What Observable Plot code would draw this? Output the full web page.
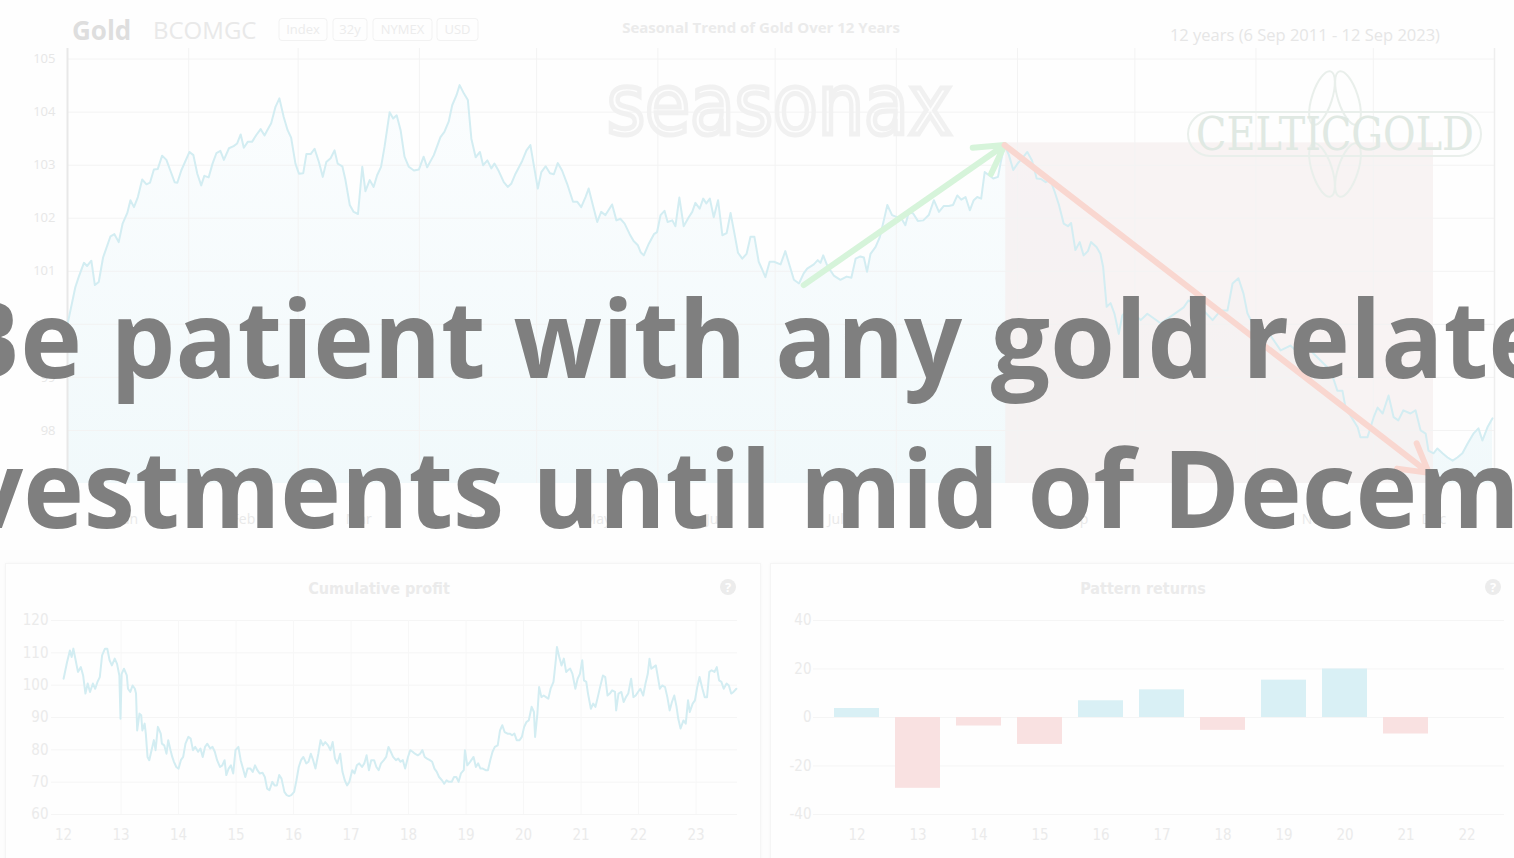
<!DOCTYPE html>
<html><head><meta charset="utf-8">
<script src="https://cdn.jsdelivr.net/npm/d3@7"></script>
<script src="https://cdn.jsdelivr.net/npm/@observablehq/plot@0.6"></script>
<style>
html,body{margin:0;padding:0}
body{width:1514px;height:858px;overflow:hidden;position:relative;background:#fdfdfd;font-family:"Open Sans",sans-serif}
.abs{position:absolute}
.card{position:absolute;background:#fefefe;border:1px solid #f5f5f5;box-shadow:0 0 3px rgba(0,0,0,0.03)}
</style></head><body>
<div class="abs" style="left:0;top:0;width:1514px;height:550px;background:#fefefe"></div>
<div class="card" style="left:5px;top:563px;width:754px;height:300px"></div>
<div class="card" style="left:770px;top:563px;width:748px;height:300px"></div>
<div id="main" class="abs" style="left:0;top:0"></div>
<div id="cum" class="abs" style="left:5px;top:563px"></div>
<div id="pat" class="abs" style="left:770px;top:563px"></div>
<svg id="overlay" class="abs" style="left:0;top:0" width="1514" height="858"></svg>
<script>
// ---------- DATA ----------
const monthNames = ["Jan","Feb","Mar","Apr","May","Jun","Jul","Aug","Sep","Oct","Nov","Dec"];
const monthStarts = [0,31,59,90,120,151,181,212,243,273,304,334,365];
const seasonTicksY = [98,99,100,101,102,103,104,105];
// [day of year, seasonal index]
const seasonData = [
[0,100.0],[2,100.7],[2.9,100.9],[4.2,101.16],[5,101.1],[6.1,101.2],[7,100.74],[8,100.8],[9.1,101.26],[11,101.66],
[12,101.7],[13.1,101.55],[14.1,101.9],[15.3,102.1],[16.1,102.34],[17,102.21],[18,102.4],[19.1,102.73],[20.2,102.64],[21.1,102.67],
[22.1,102.92],[23.1,102.93],[24.2,103.18],[25.3,103.1],[26.3,102.9],[27.4,102.68],[28.1,102.67],[29.1,102.9],[31.2,103.25],[32.2,103.19],
[33.2,102.84],[34.2,102.62],[35,102.8],[36.1,102.77],[37.1,103.03],[38.1,103.23],[39.1,103.27],[40,103.1],[41.3,103.32],[42.5,103.36],
[43.4,103.41],[44.3,103.58],[45.1,103.33],[46.1,103.44],[47.2,103.44],[48.3,103.57],[49.4,103.68],[50.4,103.56],[51.1,103.66],[52.1,103.79],
[53.2,104.1],[54.2,104.26],[55.3,103.91],[56.3,103.66],[57.2,103.52],[58.3,103.03],[59.2,102.84],[60.3,102.85],[61.1,103.21],[62.2,103.21],
[63.2,103.31],[64.3,103.06],[65.3,102.78],[66.2,103.06],[67.3,103.13],[68.3,103.28],[69.1,103.03],[70.3,102.98],[71.1,102.72],[72.2,102.25],
[73.2,102.12],[74.3,102.08],[75.4,102.97],[76.2,102.51],[77.3,102.72],[78.3,102.59],[79.2,102.81],[80.2,102.97],[81.1,103.35],[82.4,104.0],
[83.3,103.88],[84.2,103.94],[85.2,103.66],[86.2,103.16],[87.3,102.97],[88.6,102.9],[89.9,102.92],[91.1,103.16],[92,102.96],[93.7,103.19],
[95.4,103.53],[96.4,103.63],[97.5,103.82],[98.4,104.13],[99.5,104.32],[100.3,104.51],[101.4,104.35],[102.4,104.23],[103.3,103.5],[104.4,103.15],
[105.5,103.25],[106.3,103.0],[107.4,103.09],[108.4,102.94],[109.2,103.03],[110.3,102.89],[111.6,102.68],[112.6,102.59],[113.5,102.65],[114.6,102.84],
[116.3,103.08],[117.4,103.28],[118.4,103.38],[120.3,102.56],[121.2,102.87],[122.3,102.98],[123.4,102.85],[124.4,102.83],[125.4,103.04],[126.5,102.9],
[127.8,102.65],[129.3,102.31],[130.4,102.31],[131.4,102.21],[132.5,102.4],[133.3,102.56],[134.5,102.21],[135.5,101.93],[136.5,102.12],[137.6,102.06],
[139.3,102.26],[140.4,101.96],[141.4,101.99],[142.5,101.9],[143.8,101.7],[144.8,101.57],[145.9,101.49],[146.6,101.36],[147.4,101.3],[148.7,101.52],
[150,101.7],[150.8,101.74],[151.7,102.06],[152.7,102.14],[153.5,101.93],[154.7,101.96],[155.5,101.85],[156.5,102.39],[157.6,101.85],[158.9,102.02],
[159.8,102.12],[160.6,102.29],[161.7,102.18],[162.6,102.37],[163.4,102.28],[164.3,102.37],[165.3,102.02],[166.4,102.34],[167.5,101.68],[168.6,101.72],
[169.6,102.1],[170.6,101.71],[171.5,101.35],[172.6,101.24],[173.7,101.33],[174.7,101.65],[175.7,101.65],[176.8,101.18],[177.7,101.03],[178.5,100.89],
[179.6,101.18],[180.7,101.18],[182.4,101.13],[183.6,101.38],[184.7,101.11],[185.8,100.84],[187.1,100.77],[188.3,100.96],[189.2,101.05],[190.9,101.13],
[191.9,101.21],[192.6,101.16],[193.3,101.3],[194.3,101.11],[196,100.92],[197.7,100.84],[199.3,100.9],[200.5,100.88],[201.6,101.24],[202.8,101.28],
[203.7,101.26],[204.5,100.99],[205.4,101.33],[206.7,101.46],[207.8,101.65],[208.8,101.96],[209.7,102.25],[210.9,102.06],[212.2,102.02],[213.2,102.01],
[214.3,101.87],[215.2,102.12],[216.3,102.09],[217.5,101.95],[218.9,101.96],[220.3,102.06],[221.6,102.34],[222.9,102.12],[224.1,102.23],[225.4,102.23],
[226.5,102.25],[227.6,102.43],[228.6,102.35],[229.7,102.4],[230.8,102.15],[231.8,102.34],[232.7,102.4],[233.7,102.37],[234.6,102.87],[235.7,102.81],
[236.8,102.75],[238,102.78],[238.8,103.09],[239.7,103.38],[240.8,103.19],[241.9,102.91],[243.1,103.04],[244.2,103.13],[245.5,103.25],[246.7,103.09],
[247.9,102.75],[249,102.74],[250.2,102.68],[251.4,102.72],[252.5,102.5],[253.6,102.25],[254.8,101.9],[255.9,101.85],[256.7,101.91],[257.8,101.4],
[258.9,101.55],[259.9,101.3],[261,101.38],[261.8,101.55],[263.2,101.46],[264.2,101.33],[264.9,101.08],[265.8,100.33],[266.8,100.4],[267.8,100.2],
[268.9,99.82],[269.8,100.17],[271,100.26],[272.7,100.2],[274.5,100.08],[276.2,100.2],[279.6,100.02],[282.6,100.17],[285.5,100.32],[286.7,100.45],
[288.8,100.36],[290.6,100.26],[292.9,100.08],[294.9,100.26],[296.7,100.26],[298,100.77],[299.5,100.87],[300.8,100.58],[301.8,100.21],[303.9,99.89],
[305.7,99.7],[307.7,99.79],[310.3,99.51],[312.8,99.6],[315.4,99.42],[317.9,99.51],[320.5,99.32],[323.1,99.13],[324.8,98.75],[326.1,98.75],
[326.9,98.43],[330,98.06],[330.7,97.87],[332.5,97.87],[334.1,98.25],[335.1,98.43],[336.4,98.32],[337.9,98.66],[339.2,98.25],[340.4,98.19],
[341.7,98.38],[343.5,98.32],[344.8,98.38],[346.1,98.0],[347.4,97.94],[348.1,97.62],[349.4,97.57],[350.4,97.66],[351.7,97.57],[353,97.49],
[354.3,97.43],[355.5,97.49],[356.8,97.57],[358.1,97.75],[359.6,97.94],[360.9,98.04],[361.9,97.81],[363.2,98.06],[364.5,98.23]
];
// seasonal pattern window (shaded) : [start day, end day, top value]
const patternWindow = [{start:240, end:349.4, top:103.42}];
// trend arrows
const trendArrows = [
  {x1:188.3, y1:100.74, x2:239.7, y2:103.38, kind:"up"},
  {x1:239.7, y1:103.38, x2:348.2, y2:97.2, kind:"down"}
];

// Cumulative profit [year (20xx), value]
const cumTicksY = [60,70,80,90,100,110,120];
const cumTicksX = [12,13,14,15,16,17,18,19,20,21,22,23];
const cumData = [
[12.00,102.0],[12.06,107.1],[12.11,110.7],[12.14,108.7],[12.17,111.3],[12.21,107.7],[12.25,104.1],[12.30,105.6],[12.34,103.0],[12.38,97.4],
[12.42,100.5],[12.46,97.9],[12.51,100.5],[12.55,98.9],[12.59,101.0],[12.63,102.5],[12.67,109.2],[12.72,111.3],[12.76,111.3],[12.80,107.7],
[12.84,106.1],[12.89,108.2],[12.93,106.6],[12.97,103.0],[12.99,89.6],[13.01,103.5],[13.05,105.1],[13.10,103.0],[13.12,98.9],[13.16,97.9],
[13.20,99.9],[13.24,98.9],[13.26,97.4],[13.28,86.0],[13.32,91.2],[13.35,90.7],[13.37,86.0],[13.41,88.1],[13.43,85.0],[13.46,77.8],
[13.49,76.8],[13.53,79.9],[13.57,83.0],[13.60,79.9],[13.64,87.1],[13.69,85.0],[13.71,81.9],[13.75,81.4],[13.79,78.8],[13.82,83.0],
[13.86,79.9],[13.89,77.8],[13.92,76.3],[13.96,74.7],[14.00,74.2],[14.04,76.8],[14.08,77.8],[14.12,81.9],[14.17,84.0],[14.21,83.5],
[14.25,79.9],[14.29,80.9],[14.34,79.4],[14.38,80.4],[14.42,77.8],[14.46,80.9],[14.50,81.9],[14.55,80.4],[14.59,80.9],[14.63,79.4],
[14.67,76.8],[14.72,74.7],[14.76,75.2],[14.80,76.8],[14.83,72.2],[14.87,74.2],[14.91,75.2],[14.95,72.7],[14.99,79.9],[15.04,80.9],
[15.08,76.8],[15.12,74.2],[15.16,71.6],[15.20,74.2],[15.25,74.2],[15.29,73.2],[15.33,75.2],[15.37,73.7],[15.41,72.7],[15.46,72.9],
[15.50,71.6],[15.54,68.0],[15.58,67.5],[15.63,70.1],[15.67,69.0],[15.71,69.0],[15.75,72.2],[15.79,71.1],[15.84,67.0],[15.88,66.0],
[15.92,65.7],[15.96,66.0],[16.01,67.0],[16.05,70.6],[16.09,74.7],[16.13,76.8],[16.17,77.8],[16.22,75.8],[16.26,76.3],[16.30,78.8],
[16.34,76.8],[16.38,74.2],[16.43,78.8],[16.47,83.0],[16.51,81.4],[16.55,82.4],[16.60,81.4],[16.64,79.9],[16.68,82.4],[16.72,77.3],
[16.76,75.8],[16.81,78.8],[16.85,73.2],[16.89,70.6],[16.93,69.0],[16.97,70.1],[17.02,73.7],[17.06,72.7],[17.10,75.2],[17.14,75.8],
[17.19,74.7],[17.23,75.8],[17.27,78.3],[17.31,73.7],[17.35,76.8],[17.40,76.8],[17.44,74.7],[17.48,73.7],[17.52,75.8],[17.57,76.8],
[17.61,77.8],[17.65,80.9],[17.69,79.4],[17.73,77.8],[17.78,76.8],[17.82,77.3],[17.86,76.3],[17.90,76.8],[17.94,74.2],[17.99,77.8],
[18.03,79.9],[18.07,79.4],[18.11,78.8],[18.16,78.3],[18.20,78.8],[18.24,79.9],[18.28,77.8],[18.32,77.3],[18.37,76.8],[18.41,76.3],
[18.45,74.2],[18.49,73.2],[18.53,71.6],[18.58,70.6],[18.62,69.5],[18.66,70.6],[18.70,70.1],[18.75,70.1],[18.79,71.6],[18.83,71.6],
[18.87,70.1],[18.91,72.7],[18.96,73.7],[18.98,79.9],[19.02,75.2],[19.07,76.3],[19.13,77.8],[19.17,74.7],[19.21,75.8],[19.25,74.2],
[19.29,74.2],[19.34,73.7],[19.38,73.7],[19.42,76.8],[19.46,79.4],[19.50,80.9],[19.55,81.4],[19.59,86.0],[19.63,87.6],[19.67,85.5],
[19.72,85.0],[19.76,85.0],[19.80,84.5],[19.84,85.0],[19.88,83.0],[19.93,83.0],[19.97,84.0],[20.01,87.1],[20.05,88.6],[20.09,89.1],
[20.14,93.3],[20.18,91.7],[20.20,84.0],[20.24,91.2],[20.27,99.4],[20.31,96.3],[20.35,96.8],[20.39,96.3],[20.43,95.8],[20.47,98.9],
[20.52,101.0],[20.56,107.7],[20.58,111.8],[20.62,108.7],[20.66,106.1],[20.70,108.2],[20.74,104.1],[20.77,104.6],[20.81,105.1],[20.85,103.5],
[20.90,98.9],[20.94,102.0],[20.98,103.5],[21.02,107.7],[21.05,101.5],[21.09,101.0],[21.12,97.4],[21.17,92.7],[21.21,94.3],[21.25,93.3],
[21.29,96.3],[21.33,99.4],[21.38,103.0],[21.42,102.5],[21.46,96.8],[21.50,97.4],[21.54,98.4],[21.59,97.9],[21.61,92.2],[21.65,97.4],
[21.70,97.9],[21.74,94.8],[21.78,96.3],[21.82,97.4],[21.87,102.0],[21.91,96.3],[21.95,96.8],[21.99,97.9],[22.03,98.9],[22.08,96.8],
[22.12,100.5],[22.16,103.5],[22.19,108.2],[22.22,105.1],[22.26,105.6],[22.30,106.1],[22.34,102.0],[22.37,98.9],[22.41,99.9],[22.46,99.4],
[22.50,96.3],[22.54,92.2],[22.58,94.8],[22.62,96.8],[22.66,93.3],[22.69,89.6],[22.73,86.6],[22.78,89.1],[22.82,88.1],[22.86,95.3],
[22.89,91.7],[22.94,94.3],[22.98,95.3],[23.02,99.4],[23.06,102.5],[23.11,98.9],[23.15,96.3],[23.19,96.3],[23.23,104.1],[23.27,104.6],
[23.32,104.1],[23.36,105.6],[23.40,101.5],[23.44,101.0],[23.48,98.9],[23.53,100.5],[23.57,99.9],[23.61,97.4],[23.65,97.9],[23.70,98.9]
];

// Pattern returns by year
const patYears = ["12","13","14","15","16","17","18","19","20","21","22"];
const patReturns = [3.7,-29.2,-3.5,-11.1,6.9,11.4,-5.3,15.4,20.0,-6.8,0];
const patTicksY = [-40,-20,0,20,40];

// ---------- MAIN CHART ----------
const season = seasonData.map(([day,value]) => ({day, value}));
const monthMids = monthNames.map((m,i) => ({m, d:(monthStarts[i]+monthStarts[i+1])/2}));
const gradDefs = () => {
  const ns = "http://www.w3.org/2000/svg";
  const defs = document.createElementNS(ns, "defs");
  defs.innerHTML = '<linearGradient id="areaGrad" x1="0" y1="0" x2="0" y2="1">' +
    '<stop offset="0" stop-color="#fbfdfe"/><stop offset="1" stop-color="#f1f9fb"/></linearGradient>';
  return defs;
};
const mainPlot = Plot.plot({
  width: 1514, height: 545,
  marginLeft: 67, marginRight: 20, marginTop: 48, marginBottom: 62,
  x: {domain: [0, 365], axis: null},
  y: {domain: [97, 105.2], axis: null},
  style: {background: "transparent", fontFamily: "Open Sans", overflow: "visible"},
  marks: [
    gradDefs,
    Plot.areaY(season, {x: "day", y1: 97, y2: "value", fill: "url(#areaGrad)"}),
    Plot.rect(patternWindow, {x1: "start", x2: "end", y1: 97, y2: "top", fill: "#f6efef", fillOpacity: 0.75}),
    Plot.ruleY(seasonTicksY, {stroke: "#f3f3f3", strokeWidth: 1}),
    Plot.ruleX(monthStarts.slice(1, 12), {stroke: "#f3f3f3", strokeWidth: 1}),
    Plot.ruleX([365], {stroke: "#eeeeee", strokeWidth: 1.5}),
    Plot.ruleX([0], {stroke: "#e8e8e8", strokeWidth: 2}),
    Plot.line(season, {x: "day", y: "value", stroke: "#d3edf2", strokeWidth: 2}),
    Plot.arrow(trendArrows.filter(d => d.kind === "up"), {x1: "x1", y1: "y1", x2: "x2", y2: "y2", stroke: "#d6f4da", strokeWidth: 6, headLength: 8}),
    Plot.arrow(trendArrows.filter(d => d.kind === "down"), {x1: "x1", y1: "y1", x2: "x2", y2: "y2", stroke: "#f9d7d0", strokeWidth: 6, headLength: 8}),
    Plot.text(seasonTicksY, {x: 0, y: d => d, text: d => String(d), textAnchor: "end", dx: -12, fill: "#e7e7e7", fontSize: 13}),
    Plot.text(monthMids, {x: "d", y: 97, text: "m", dy: 36, fill: "#e9e9e9", fontSize: 14})
  ]
});
document.getElementById("main").appendChild(mainPlot);

// ---------- CUMULATIVE PROFIT ----------
const cum = cumData.map(([year, value]) => ({year, value}));
const cumPlot = Plot.plot({
  width: 755, height: 295,
  marginLeft: 46, marginRight: 23, marginTop: 57, marginBottom: 44,
  x: {domain: [11.79, 23.72], axis: null},
  y: {domain: [60, 120], axis: null},
  style: {background: "transparent", fontFamily: "'Liberation Sans Narrow','DejaVu Sans Condensed',sans-serif", overflow: "visible"},
  marks: [
    Plot.ruleY(cumTicksY, {stroke: "#f5f5f5"}),
    Plot.ruleX(cumTicksX.slice(1), {stroke: "#f7f7f7"}),
    Plot.line(cum, {x: "year", y: "value", stroke: "#d3edf2", strokeWidth: 2}),
    Plot.text(cumTicksY, {x: 11.79, y: d => d, text: d => String(d), textAnchor: "end", dx: -3, fill: "#ebebeb", fontSize: 15}),
    Plot.text(cumTicksX, {x: d => d, y: 60, text: d => String(d), dy: 21, fill: "#ebebeb", fontSize: 15})
  ]
});
document.getElementById("cum").appendChild(cumPlot);

// ---------- PATTERN RETURNS ----------
const pat = patYears.map((year, i) => ({year, value: patReturns[i]}));
const patPlot = Plot.plot({
  width: 744, height: 295,
  marginLeft: 43, marginRight: 10, marginTop: 57, marginBottom: 44,
  x: {type: "band", domain: patYears, range: [54, 729], paddingInner: 0.27, paddingOuter: 0.135, axis: null},
  y: {domain: [-40, 40], axis: null},
  style: {background: "transparent", fontFamily: "'Liberation Sans Narrow','DejaVu Sans Condensed',sans-serif", overflow: "visible"},
  marks: [
    Plot.ruleY(patTicksY, {stroke: "#f5f5f5"}),
    Plot.barY(pat.filter(d => d.value > 0), {x: "year", y: "value", fill: "#d9f0f5"}),
    Plot.barY(pat.filter(d => d.value < 0), {x: "year", y: "value", fill: "#f9e1e1"}),
    Plot.text(patTicksY, {frameAnchor: "left", y: d => d, text: d => String(d), textAnchor: "end", dx: -2, fill: "#ebebeb", fontSize: 15}),
    Plot.text(patYears, {x: d => d, y: -40, text: d => d, dy: 21, fill: "#ebebeb", fontSize: 15})
  ]
});
document.getElementById("pat").appendChild(patPlot);

// ---------- HEADER, WATERMARKS, OVERLAY TEXT ----------
const ov = d3.select("#overlay");
ov.append("text").attr("x", 72).attr("y", 40).attr("font-family", "Open Sans").attr("font-weight", 700)
  .attr("font-size", 26).attr("fill", "#dedede").text("Gold");
ov.append("text").attr("x", 153).attr("y", 39).attr("font-family", "Open Sans")
  .attr("font-size", 24).attr("fill", "#e9e9e9").text("BCOMGC");
const tags = [["Index",279,48],["32y",333,34],["NYMEX",373,59],["USD",437,41]];
tags.forEach(([t,x,w]) => {
  ov.append("rect").attr("x", x).attr("y", 18.5).attr("width", w).attr("height", 22).attr("rx", 3)
    .attr("fill", "none").attr("stroke", "#f2f2f2");
  ov.append("text").attr("x", x + w/2).attr("y", 34).attr("text-anchor", "middle").attr("font-family", "Open Sans")
    .attr("font-size", 13).attr("fill", "#ececec").text(t);
});
ov.append("text").attr("x", 761).attr("y", 33).attr("text-anchor", "middle").attr("font-family", "Open Sans")
  .attr("font-weight", 700).attr("font-size", 15).attr("fill", "#ebebeb").text("Seasonal Trend of Gold Over 12 Years");
ov.append("text").attr("x", 1440).attr("y", 41).attr("text-anchor", "end").attr("font-family", "Open Sans")
  .attr("font-size", 16.5).attr("fill", "#e6e6e6").text("12 years (6 Sep 2011 - 12 Sep 2023)");

// watermarks
ov.append("text").attr("x", 607).attr("y", 134).attr("font-family", "DejaVu Sans").attr("font-size", 84)
  .attr("textLength", 345).attr("lengthAdjust", "spacingAndGlyphs")
  .attr("fill", "none").attr("stroke", "#f1f1f1").attr("stroke-width", 5).text("seasonax");
const cg = ov.append("g").attr("fill", "none").attr("stroke", "#e9efeb").attr("stroke-width", 2);
cg.append("rect").attr("x", 1188).attr("y", 112).attr("width", 293).attr("height", 44).attr("rx", 22);
cg.append("ellipse").attr("cx", 1322).attr("cy", 98).attr("rx", 10).attr("ry", 28).attr("transform", "rotate(18 1322 98)");
cg.append("ellipse").attr("cx", 1348).attr("cy", 98).attr("rx", 10).attr("ry", 28).attr("transform", "rotate(-18 1348 98)");
cg.append("ellipse").attr("cx", 1322).attr("cy", 170).attr("rx", 10).attr("ry", 28).attr("transform", "rotate(-18 1322 170)");
cg.append("ellipse").attr("cx", 1348).attr("cy", 170).attr("rx", 10).attr("ry", 28).attr("transform", "rotate(18 1348 170)");
ov.append("text").attr("x", 1196).attr("y", 150).attr("font-family", "DejaVu Serif").attr("font-size", 46)
  .attr("textLength", 278).attr("lengthAdjust", "spacingAndGlyphs")
  .attr("fill", "#e0e9e3").text("CELTICGOLD");

// panel titles and help icons
[["Cumulative profit", 379, 728], ["Pattern returns", 1143, 1493]].forEach(([t, cx, qx]) => {
  ov.append("text").attr("x", cx).attr("y", 594).attr("text-anchor", "middle")
    .attr("font-family", "'Liberation Sans Narrow','DejaVu Sans Condensed',sans-serif").attr("font-weight", 700)
    .attr("font-size", 16).attr("fill", "#ebebeb").text(t);
  ov.append("circle").attr("cx", qx).attr("cy", 587).attr("r", 8).attr("fill", "#ececec");
  ov.append("text").attr("x", qx).attr("y", 592).attr("text-anchor", "middle").attr("font-family", "Open Sans")
    .attr("font-weight", 700).attr("font-size", 13).attr("fill", "#ffffff").text("?");
});

// big overlay message
const words = [
  ["Be", -50, 378, 132], ["patient", 110.6, 378, 375], ["with", 513.6, 378, 233], ["any", 775.2, 378, 187],
  ["gold", 990.7, 378, 223], ["related", 1242.3, 378, 372],
  ["investments", -134, 528, 638], ["until", 532.4, 528, 239], ["mid", 799.8, 528, 199.5],
  ["of", 1027.5, 528, 106.8], ["December", 1162.5, 528, 532.8]
];
words.forEach(([w, x, y, len]) => {
  ov.append("text").attr("x", x).attr("y", y).attr("font-family", "Open Sans").attr("font-weight", 700)
    .attr("font-size", 107).attr("fill", "#7f7f7f")
    .attr("textLength", len).attr("lengthAdjust", "spacingAndGlyphs").text(w);
});
</script>
</body></html>
